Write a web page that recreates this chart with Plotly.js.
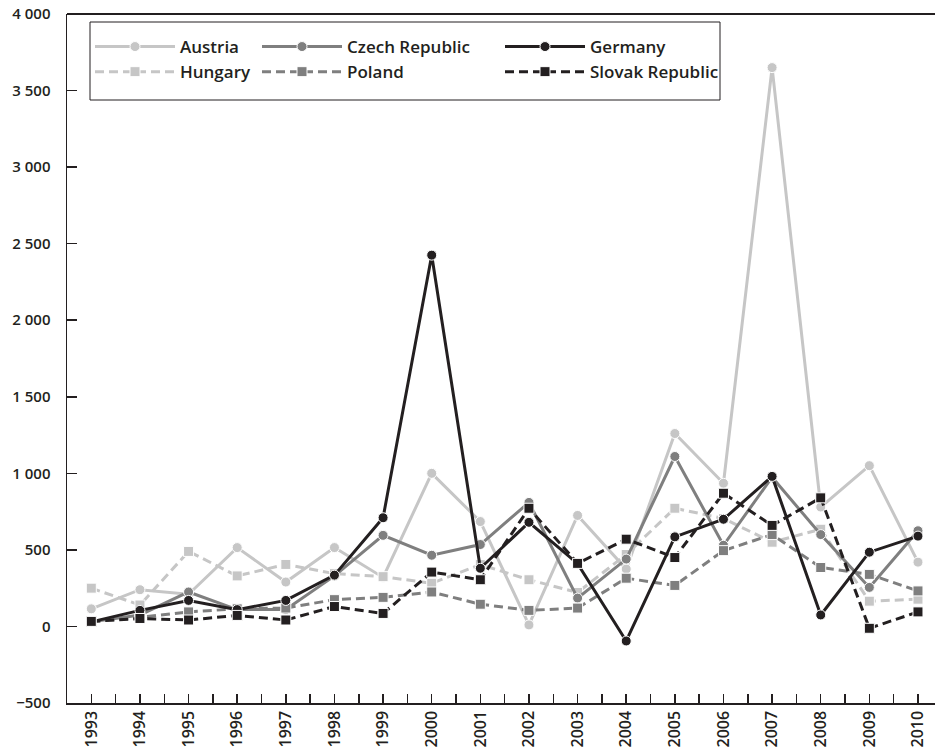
<!DOCTYPE html>
<html>
<head>
<meta charset="utf-8">
<script src="https://cdn.plot.ly/plotly-3.0.1.min.js"></script>
<style>html,body{margin:0;padding:0;background:#fff;overflow:hidden}#chart{width:935px;height:751px}</style>
</head>
<body>
<div id="chart"></div>
<script>
const years = [1993,1994,1995,1996,1997,1998,1999,2000,2001,2002,2003,2004,2005,2006,2007,2008,2009,2010];
const austria = [115,240,210,515,290,515,320,1000,685,10,725,375,1260,935,3650,780,1050,420];
const hungary = [250,140,490,330,405,345,325,282,404,305,222,470,772,705,550,635,165,178];
const czech   = [30,75,225,110,110,330,595,465,535,810,185,440,1110,530,975,600,255,625];
const poland  = [30,60,95,115,120,175,190,225,145,105,120,315,268,495,600,385,340,232];
const germany = [30,105,170,110,170,335,710,2425,380,680,410,-95,585,700,980,75,485,590];
const slovak  = [33,52,42,72,42,130,85,355,305,772,412,570,450,870,660,840,-12,95];

const LIGHT = '#c6c6c6', MID = '#7f7f7f', DARK = '#231f20';
function tr(name, y, color, dash, symbol, legend) {
  return {
    type: 'scatter', mode: 'lines+markers', name: name, x: years, y: y,
    line: {color: color, width: 3, dash: dash},
    marker: {color: color, symbol: symbol, size: 10, line: {color: '#fff', width: 1}},
    legend: legend, showlegend: true
  };
}
const data = [
  tr('Austria', austria, LIGHT, 'solid', 'circle', 'legend'),
  tr('Hungary', hungary, LIGHT, '9px,5px', 'square', 'legend'),
  tr('Czech Republic', czech, MID, 'solid', 'circle', 'legend2'),
  tr('Poland', poland, MID, '9px,5px', 'square', 'legend2'),
  tr('Germany', germany, DARK, 'solid', 'circle', 'legend3'),
  tr('Slovak Republic', slovak, DARK, '9px,5px', 'square', 'legend3')
];
const FONT = 'Open Sans, Noto Sans, sans-serif';
const L = 67, W = 868, T = 14, H = 689;
const px = v => (v - L) / W, py = v => (T + H - v) / H;
const legBase = {orientation: 'v', xanchor: 'left', yanchor: 'top', y: py(29), bgcolor: 'rgba(0,0,0,0)',
  borderwidth: 0, itemwidth: 80, font: {family: FONT, size: 17, weight: 600, color: DARK}, tracegroupgap: 0};
const layout = {
  width: 935, height: 751,
  margin: {l: L, r: 0, t: T, b: 751 - T - H},
  paper_bgcolor: '#fff', plot_bgcolor: '#fff',
  separators: '. ',
  font: {family: FONT, color: DARK},
  xaxis: {range: [1992.5, 2010.35], tick0: 1993, dtick: 1, tickformat: 'd', ticks: 'inside', ticklen: 9, tickwidth: 1.5,
    tickcolor: DARK, showline: true, linecolor: DARK, linewidth: 1.5, showgrid: false, zeroline: false,
    tickangle: -90, tickfont: {family: FONT, size: 16, weight: 600, color: DARK},
    minor: {dtick: 0.5, ticks: 'inside', ticklen: 9, tickwidth: 1.5, tickcolor: DARK, showgrid: false}},
  yaxis: {range: [-500, 4000], dtick: 500, separatethousands: true, ticks: 'inside', ticklen: 10, tickwidth: 1.5,
    tickcolor: DARK, showline: true, linecolor: DARK, linewidth: 1.5, showgrid: false, zeroline: false,
    ticklabelstandoff: 12, tickfont: {family: FONT, size: 15, weight: 600, color: DARK}},
  legend: Object.assign({}, legBase, {x: px(90)}),
  legend2: Object.assign({}, legBase, {x: px(257)}),
  legend3: Object.assign({}, legBase, {x: px(500)}),
  shapes: [
    {type: 'line', xref: 'paper', yref: 'paper', x0: 0, x1: 1, y0: 1, y1: 1, line: {color: DARK, width: 2}},
    {type: 'rect', xref: 'paper', yref: 'paper', x0: px(90), x1: px(720), y0: py(22), y1: py(100),
      line: {color: DARK, width: 1}, fillcolor: '#fff', layer: 'below'}
  ],
  showlegend: true
};
Plotly.newPlot('chart', data, layout, {displayModeBar: false, staticPlot: true});
</script>
</body>
</html>
